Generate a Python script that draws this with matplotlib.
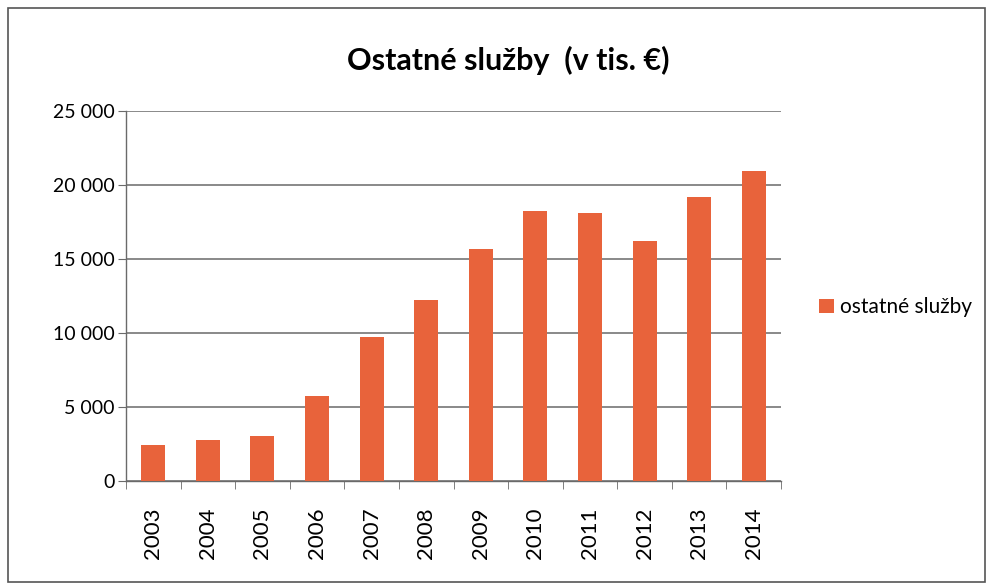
import matplotlib
matplotlib.use("Agg")
import matplotlib.pyplot as plt
from matplotlib.patches import Rectangle
from matplotlib.ticker import FuncFormatter

years = ["2003", "2004", "2005", "2006", "2007", "2008",
         "2009", "2010", "2011", "2012", "2013", "2014"]
values = [2460, 2800, 3030, 5730, 9720, 12200,
          15660, 18250, 18140, 16220, 19220, 20940]
series_name = "ostatné služby"
title = "Ostatné služby  (v tis. €)"

bar_color = "#E8633B"
grid_color = "#6a6a6a"

plt.rcParams["font.family"] = ["Lato", "DejaVu Sans"]

fig = plt.figure(figsize=(9.9, 5.88), dpi=100)
ax = fig.add_axes([126 / 990, 1 - 481 / 588, (781 - 126) / 990, (481 - 111) / 588])

x = list(range(len(years)))
ax.bar(x, values, width=0.44, color=bar_color, label=series_name, zorder=3)

ax.set_xlim(-0.5, len(years) - 0.5)
ax.set_ylim(0, 25000)
ax.set_yticks(range(0, 25001, 5000))
ax.yaxis.set_major_formatter(FuncFormatter(lambda v, p: "{:,}".format(int(v)).replace(",", " ")))
ax.yaxis.grid(True, color=grid_color, linewidth=1.1, zorder=0)

ax.set_xticks(x)
ax.set_xticklabels(years, rotation=90)
ax.set_xticks([i - 0.5 for i in range(len(years) + 1)], minor=True)
ax.tick_params(axis="x", which="major", length=0, pad=19, labelsize=16)
ax.tick_params(axis="x", which="minor", length=6, color=grid_color, direction="out")
ax.tick_params(axis="y", length=6, color=grid_color, labelsize=14, pad=2)

for side in ["top", "right"]:
    ax.spines[side].set_visible(False)
for side in ["left", "bottom"]:
    ax.spines[side].set_color(grid_color)
    ax.spines[side].set_linewidth(1.0)

fig.text(0.513, 1 - 60 / 588, title, ha="center", va="center",
         fontsize=22, fontweight="bold")

ax.legend(loc="center left", bbox_to_anchor=(1.03, 0.47), frameon=False,
          fontsize=15, handlelength=0.7, handleheight=0.7, handletextpad=0.3)

# outer chart frame
fig.patches.append(Rectangle((8 / 990, 1 - 582 / 588), 977 / 990, 574 / 588,
                             transform=fig.transFigure, fill=False,
                             edgecolor="#555555", linewidth=1.2))

fig.savefig("out.png", dpi=100, facecolor="white")
